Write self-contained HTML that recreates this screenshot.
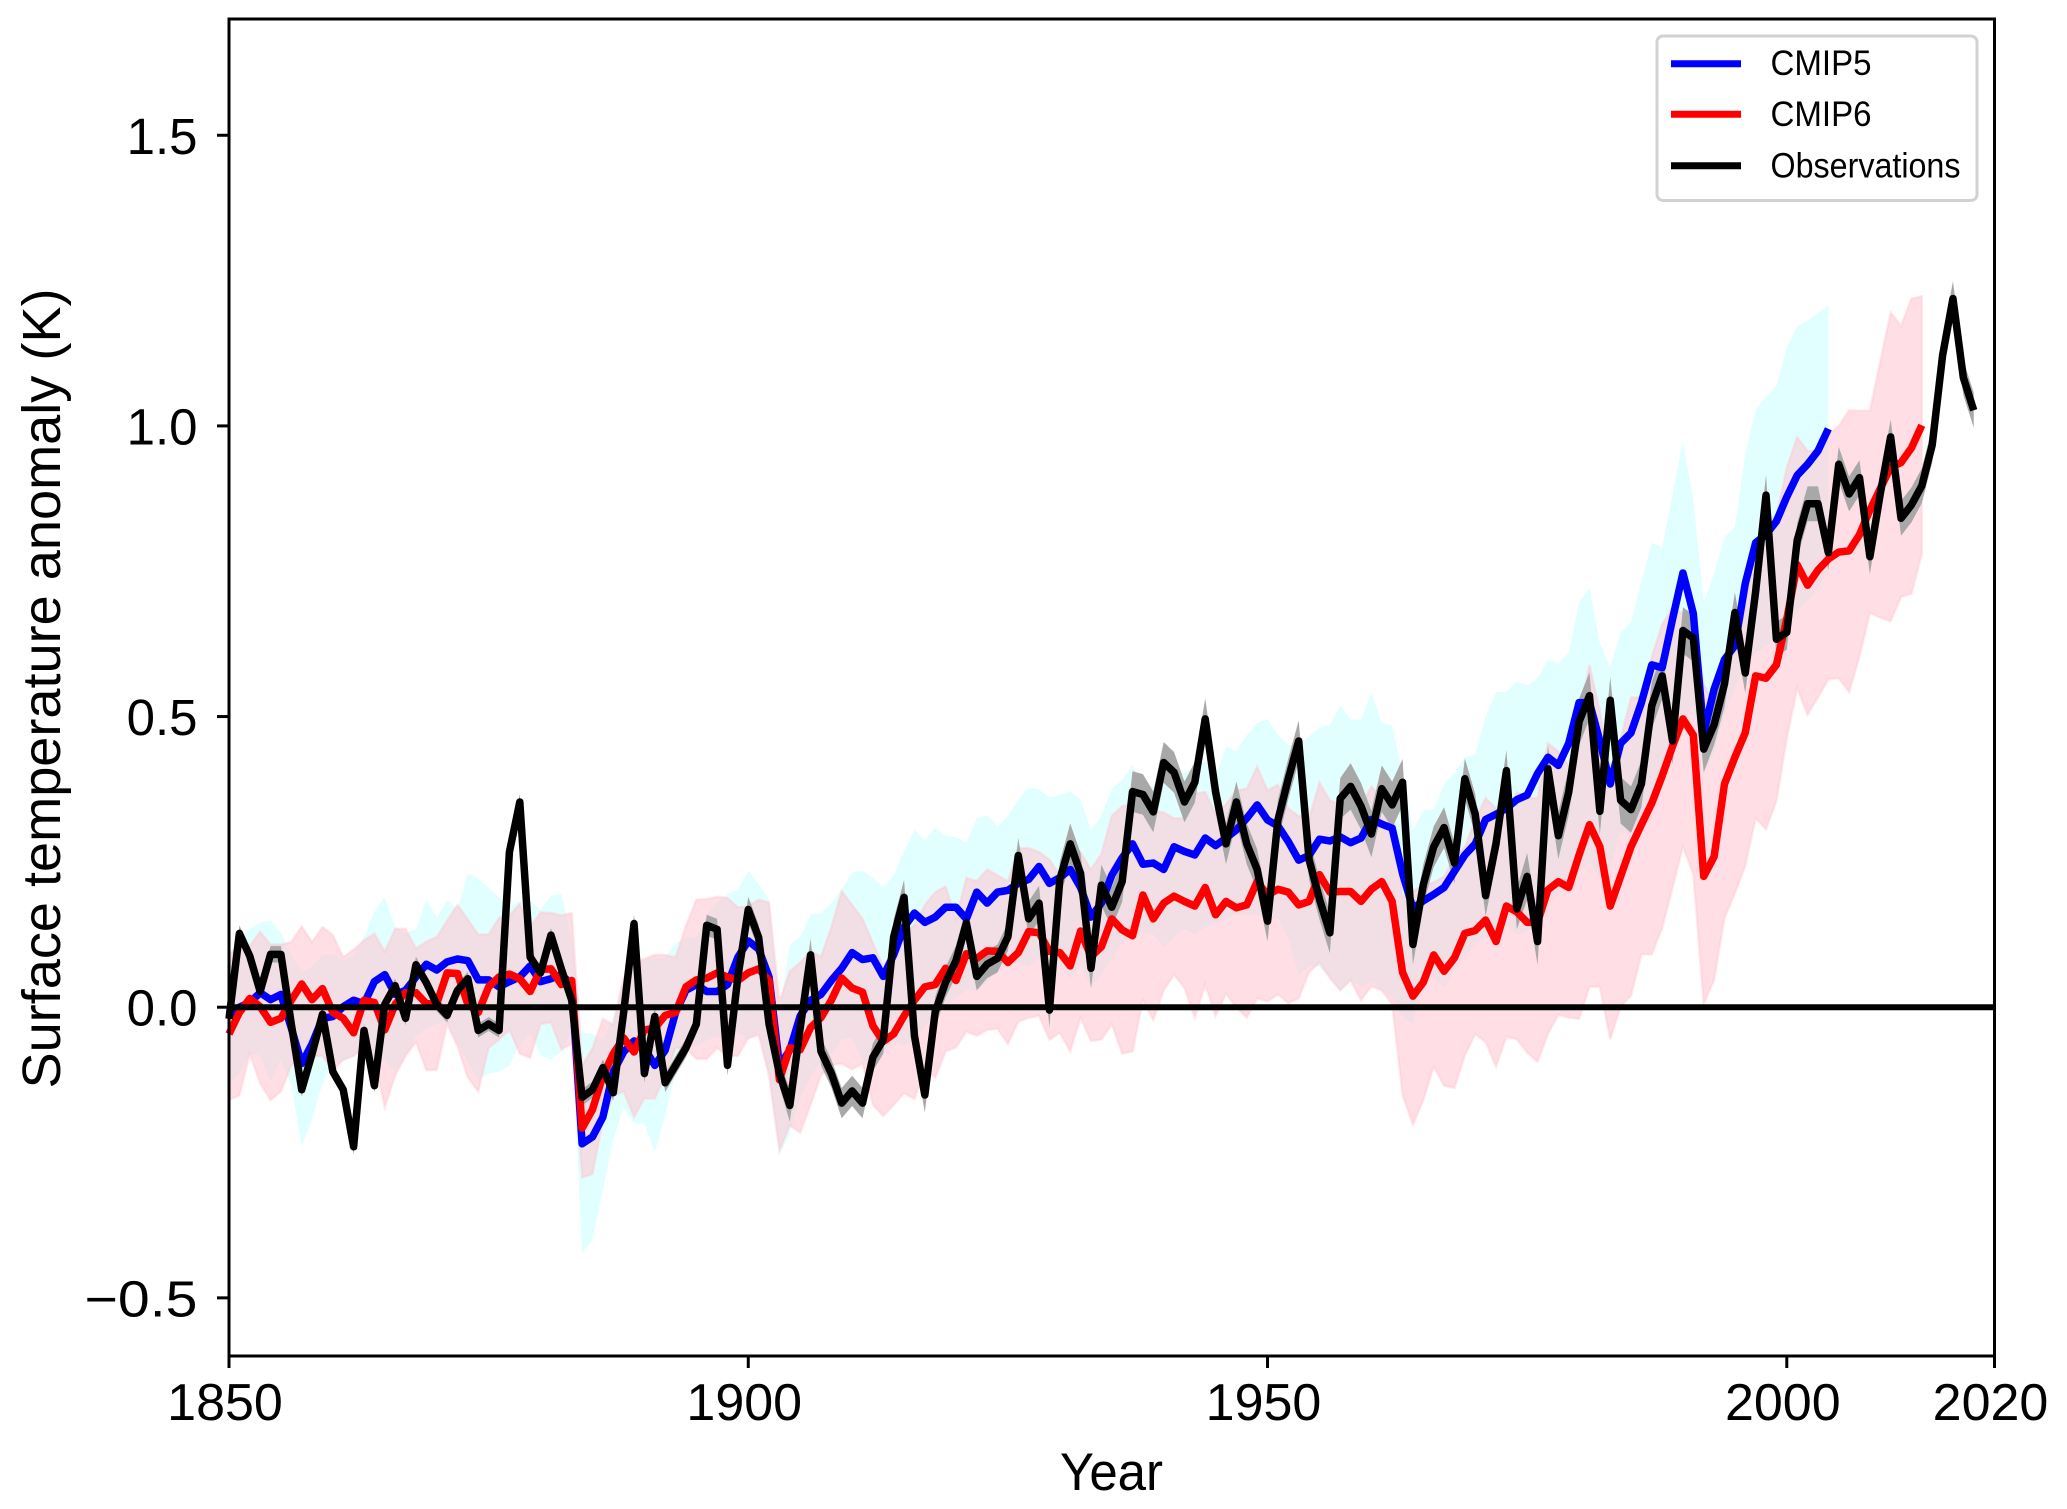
<!DOCTYPE html>
<html lang="en">
<head>
<meta charset="utf-8">
<title>Surface temperature anomaly</title>
<style>
  html, body { margin: 0; padding: 0; background: #fff; }
  body { width: 2067px; height: 1509px; overflow: hidden; }
  svg { display: block; font-family: "Liberation Sans", sans-serif; }
</style>
</head>
<body>
<svg id="chart" xmlns="http://www.w3.org/2000/svg" width="2067" height="1509" viewBox="0 0 2067 1509">
  <rect x="0" y="0" width="2067" height="1509" fill="#fff"/>
  <g id="bands"></g>
  <g id="lines"></g>
  <g id="axes"></g>
  <text transform="translate(60 688.5) rotate(-90)" text-anchor="middle" font-size="54" textLength="800" lengthAdjust="spacingAndGlyphs" fill="#000">Surface temperature anomaly (K)</text>
  <text x="1111.5" y="1490" text-anchor="middle" font-size="53" textLength="103" lengthAdjust="spacingAndGlyphs" fill="#000">Year</text>
  <g>
    <rect x="1657" y="36" width="320" height="164.5" rx="6" ry="6" fill="#fff" stroke="#d2d2d2" stroke-width="3"/>
    <line x1="1671" y1="63.7" x2="1741" y2="63.7" stroke="#0000ff" stroke-width="7"/>
    <text x="1770.5" y="75" font-size="35" textLength="101" lengthAdjust="spacingAndGlyphs" fill="#000">CMIP5</text>
    <line x1="1671" y1="114.3" x2="1741" y2="114.3" stroke="#ff0000" stroke-width="7"/>
    <text x="1770.5" y="126" font-size="35" textLength="101" lengthAdjust="spacingAndGlyphs" fill="#000">CMIP6</text>
    <line x1="1671" y1="165.7" x2="1741" y2="165.7" stroke="#000000" stroke-width="7"/>
    <text x="1770.5" y="177.5" font-size="35" textLength="190" lengthAdjust="spacingAndGlyphs" fill="#000">Observations</text>
  </g>
</svg>
<script>
// ---- data (anomalies in K; each series starts in 1850) ----
const startYear = 1850;
const xTicks = [1850, 1900, 1950, 2000, 2020];
const yTicks = [-0.5, 0, 0.5, 1, 1.5];
const yTickLabels = ["\u22120.5", "0.0", "0.5", "1.0", "1.5"];
const xDomain = [1850, 2020];
const yDomain = [-0.6, 1.7];

const observations = [
 -.02,.127,.088,.027,.091,.091,-.029,-.142,-.08,-.012,
 -.111,-.142,-.24,-.04,-.135,.005,.037,-.019,.073,.042,
 .005,-.014,.029,.049,-.04,-.029,-.04,.267,.353,.086,
 .059,.124,.066,.012,-.155,-.142,-.104,-.147,-.009,.144,
 -.114,-.016,-.13,-.10,-.07,-.029,.141,.134,-.10,.052,
 .168,.12,-.029,-.114,-.169,-.036,.09,-.076,-.114,-.165,
 -.144,-.165,-.086,-.056,.121,.189,-.049,-.151,-.008,.043,
 .08,.145,.053,.074,.084,.121,.261,.152,.179,-.005,
 .22,.281,.23,.067,.21,.172,.216,.371,.366,.336,
 .421,.404,.353,.387,.496,.37,.281,.353,.281,.237,
 .148,.322,.393,.458,.254,.186,.128,.359,.38,.346,
 .298,.376,.348,.387,.108,.211,.276,.309,.248,.393,
 .332,.192,.281,.407,.169,.225,.113,.41,.295,.37,
 .491,.536,.337,.528,.356,.34,.384,.519,.57,.458,
 .648,.635,.444,.486,.556,.679,.575,.715,.881,.633,
 .645,.803,.866,.866,.782,.934,.883,.911,.775,.883,
 .981,.841,.864,.897,.967,1.121,1.219,1.083,1.027
];
const observationsError = [
 .012,.014,.012,.012,.014,.014,.012,.012,.012,.012,
 .012,.012,.014,.012,.012,.012,.012,.012,.014,.012,
 .012,.012,.012,.012,.012,.012,.012,.012,.014,.014,
 .012,.012,.012,.012,.014,.014,.014,.014,.014,.016,
 .016,.016,.016,.016,.016,.016,.018,.018,.018,.018,
 .022,.022,.022,.022,.028,.028,.028,.024,.024,.026,
 .026,.026,.024,.024,.03,.03,.03,.03,.026,.026,
 .026,.026,.024,.024,.024,.024,.03,.03,.03,.03,
 .03,.035,.035,.035,.035,.035,.035,.035,.035,.035,
 .035,.035,.035,.035,.035,.035,.035,.035,.035,.035,
 .035,.035,.035,.035,.035,.035,.035,.035,.04,.04,
 .04,.04,.04,.04,.035,.035,.035,.035,.035,.035,
 .035,.035,.035,.035,.035,.04,.04,.04,.04,.04,
 .04,.04,.04,.04,.04,.04,.04,.04,.04,.04,
 .04,.04,.04,.035,.04,.035,.035,.035,.035,.03,
 .03,.03,.03,.03,.03,.03,.03,.03,.03,.03,
 .03,.03,.03,.03,.03,.03,.03,.03,.03
];

const cmip5 = [
 -.015,0,.008,.025,.013,.022,-.036,-.097,-.063,-.019,
 -.016,.001,.012,.006,.044,.056,.022,.029,.052,.074,
 .064,.078,.083,.08,.047,.047,.035,.044,.052,.071,
 .044,.049,.056,.039,-.235,-.223,-.189,-.111,-.077,-.058,
 -.07,-.10,-.074,-.009,.029,.039,.027,.027,.039,.086,
 .114,.10,.052,-.10,-.074,-.015,.012,.022,.046,.067,
 .094,.082,.085,.053,.09,.138,.162,.146,.155,.172,
 .172,.152,.198,.179,.198,.201,.213,.22,.242,.213,
 .223,.237,.206,.155,.179,.227,.257,.281,.246,.248,
 .237,.276,.268,.262,.291,.278,.291,.305,.325,.348,
 .322,.312,.285,.253,.261,.289,.286,.293,.283,.291,
 .323,.315,.308,.23,.17,.183,.194,.206,.234,.262,
 .281,.323,.332,.342,.357,.365,.402,.43,.416,.454,
 .524,.524,.458,.384,.454,.472,.524,.589,.584,.668,
 .747,.677,.472,.547,.598,.622,.729,.799,.813,.836,
 .878,.915,.934,.957,.995
];
const cmip5Upper = [
 .09,.12,.135,.145,.149,.128,.09,.06,.07,.09,
 .09,.08,.09,.121,.165,.189,.138,.128,.134,.185,
 .154,.185,.168,.23,.222,.205,.188,.175,.182,.182,
 .168,.192,.195,.12,-.043,-.046,-.056,-.016,.052,.076,
 .08,.085,.086,.11,.12,.12,.16,.18,.195,.202,
 .235,.212,.185,-.009,.107,.121,.159,.162,.179,.203,
 .232,.235,.223,.206,.227,.268,.305,.287,.309,.295,
 .292,.283,.325,.33,.311,.329,.357,.378,.375,.361,
 .366,.371,.357,.305,.329,.376,.391,.417,.38,.38,
 .383,.397,.404,.41,.424,.397,.448,.441,.468,.489,
 .496,.468,.451,.451,.466,.482,.485,.519,.495,.495,
 .541,.489,.485,.40,.304,.34,.34,.384,.402,.43,
 .435,.50,.542,.542,.561,.553,.566,.598,.592,.61,
 .696,.722,.626,.586,.645,.663,.733,.799,.791,.883,
 .974,.873,.696,.747,.808,.827,.953,1.027,1.051,1.069,
 1.135,1.172,1.181,1.195,1.207
];
const cmip5Lower = [
 -.131,-.114,-.08,-.083,-.128,-.09,-.135,-.239,-.193,-.131,
 -.097,-.094,-.084,-.07,-.09,-.09,-.111,-.084,-.05,-.036,
 -.029,-.026,-.063,-.094,-.125,-.114,-.111,-.101,-.063,-.046,
 -.083,-.09,-.077,-.043,-.424,-.40,-.315,-.227,-.172,-.201,
 -.20,-.25,-.186,-.111,-.07,-.067,-.057,-.05,-.057,-.043,
 -.057,-.043,-.118,-.254,-.22,-.155,-.12,-.093,-.08,-.056,
 -.052,-.093,-.10,-.076,-.059,-.066,-.056,-.032,-.015,-.001,
 .016,.029,.029,.043,.063,.07,.077,.07,.084,.084,
 .07,.05,.07,.036,.056,.084,.111,.125,.128,.125,
 .104,.121,.135,.125,.138,.145,.152,.159,.159,.159,
 .152,.152,.118,.056,.07,.07,.05,.029,.046,.036,
 .043,.029,.016,-.018,-.029,.052,.05,.034,.062,.085,
 .11,.12,.13,.14,.125,.13,.14,.17,.20,.21,
 .23,.25,.22,.24,.30,.30,.33,.37,.41,.43,
 .49,.52,.40,.44,.50,.55,.59,.61,.62,.64,
 .65,.68,.70,.72,.75
];

const cmip6 = [
 -.046,-.009,.015,.001,-.026,-.019,.012,.04,.013,.032,
 -.009,-.019,-.044,.012,.008,-.039,.005,.025,.025,.006,
 .006,.059,.058,.005,-.009,.035,.052,.057,.049,.027,
 .065,.066,.039,.046,-.208,-.176,-.118,-.08,-.053,-.077,
 -.039,-.036,-.014,-.009,.035,.047,.05,.059,.052,.046,
 .059,.066,.046,-.125,-.07,-.073,-.035,-.018,.012,.05,
 .033,.026,-.032,-.059,-.046,-.015,.012,.035,.039,.067,
 .046,.092,.084,.097,.096,.077,.094,.13,.128,.096,
 .094,.071,.131,.087,.104,.152,.133,.123,.193,.152,
 .179,.191,.182,.174,.206,.159,.182,.171,.176,.216,
 .193,.203,.198,.176,.182,.228,.198,.199,.199,.182,
 .203,.216,.182,.06,.019,.043,.09,.062,.085,.127,
 .132,.15,.113,.174,.164,.146,.146,.202,.216,.206,
 .262,.314,.276,.174,.225,.276,.314,.351,.398,.449,
 .496,.468,.225,.259,.384,.43,.472,.57,.566,.589,
 .668,.761,.726,.752,.771,.783,.785,.813,.855,.892,
 .929,.937,.962,1.001
];
const cmip6Upper = [
 .09,.105,.105,.13,.108,.108,.112,.139,.112,.138,
 .124,.086,.099,.115,.127,.096,.135,.135,.101,.113,
 .121,.149,.176,.151,.125,.125,.154,.158,.178,.138,
 .163,.162,.158,.162,-.10,-.07,-.02,-.03,.05,.077,
 .083,.09,.09,.086,.14,.185,.186,.19,.188,.172,
 .174,.185,.18,.01,.062,.077,.097,.087,.138,.20,
 .176,.152,.111,.07,.097,.125,.142,.176,.198,.208,
 .152,.223,.217,.237,.227,.217,.274,.274,.267,.254,
 .227,.281,.267,.237,.264,.329,.346,.35,.345,.339,
 .335,.325,.325,.368,.37,.332,.349,.373,.376,.414,
 .373,.383,.342,.329,.325,.387,.356,.349,.383,.346,
 .38,.359,.353,.19,.20,.21,.215,.225,.258,.276,
 .323,.36,.342,.332,.37,.36,.36,.454,.44,.416,
 .50,.589,.51,.407,.463,.533,.533,.603,.659,.687,
 .677,.668,.556,.519,.556,.631,.687,.799,.836,.845,
 .929,.981,.957,.957,.985,1.0,1.027,1.026,1.026,1.111,
 1.195,1.172,1.219,1.223
];
const cmip6Lower = [
 -.159,-.152,-.08,-.131,-.16,-.145,-.10,-.09,-.085,-.084,
 -.11,-.09,-.084,-.07,-.09,-.172,-.118,-.084,-.06,-.108,
 -.108,-.029,-.067,-.121,-.145,-.07,-.056,-.039,-.08,-.087,
 -.029,-.026,-.073,-.063,-.293,-.287,-.196,-.152,-.145,-.189,
 -.157,-.157,-.118,-.07,-.07,-.089,-.089,-.07,-.084,-.084,
 -.053,-.048,-.118,-.247,-.203,-.216,-.168,-.117,-.10,-.097,
 -.107,-.097,-.168,-.187,-.168,-.148,-.158,-.107,-.121,-.076,
 -.069,-.042,-.049,-.039,-.037,-.063,-.025,-.018,-.015,-.056,
 -.044,-.076,-.018,-.058,-.056,-.029,-.08,-.076,.012,-.022,
 .029,.056,.033,-.018,.039,-.015,.023,-.001,-.018,.015,
 .01,.022,.007,.015,.06,.077,.05,.029,.046,.012,
 .036,.029,.005,-.151,-.202,-.16,-.102,-.135,-.139,-.083,
 -.046,-.06,-.102,-.051,-.055,-.078,-.094,-.046,-.013,-.018,
 -.02,.035,.035,-.055,.001,.02,.091,.091,.136,.206,
 .276,.229,.006,.047,.154,.196,.243,.325,.306,.355,
 .463,.549,.503,.533,.564,.566,.542,.603,.678,.67,
 .664,.706,.711,.78
];

// ---- plot geometry and axis functions ----
const plotLeft = 229, plotRight = 1994.5, plotTop = 19, plotBottom = 1356;
function xScale(year) { return plotLeft + (year - xDomain[0]) / (xDomain[1] - xDomain[0]) * (plotRight - plotLeft); }
function yScale(value) { return plotBottom - (value - yDomain[0]) / (yDomain[1] - yDomain[0]) * (plotBottom - plotTop); }

const SVGNS = "http://www.w3.org/2000/svg";
function makeEl(tag, parent, attrs) {
  const el = document.createElementNS(SVGNS, tag);
  for (const k in attrs) el.setAttribute(k, attrs[k]);
  parent.appendChild(el);
  return el;
}
function linePath(values) {
  return values.map((v, i) => (i ? "L" : "M") + xScale(startYear + i).toFixed(2) + " " + yScale(v).toFixed(2)).join("");
}
function bandPath(upper, lower) {
  let d = linePath(upper);
  for (let i = lower.length - 1; i >= 0; i--) {
    d += "L" + xScale(startYear + i).toFixed(2) + " " + yScale(lower[i]).toFixed(2);
  }
  return d + "Z";
}

const bandsG = document.getElementById("bands");
const linesG = document.getElementById("lines");
const axesG = document.getElementById("axes");

const bandCmip5 = makeEl("path", bandsG, { d: bandPath(cmip5Upper, cmip5Lower), fill: "#e2ffff", stroke: "none" });



const bandCmip6 = makeEl("path", bandsG, { d: bandPath(cmip6Upper, cmip6Lower), fill: "#ffc0cb", "fill-opacity": 0.5, stroke: "#ffc0cb", "stroke-opacity": 0.35, "stroke-width": 2.5 });



const obsUpper = observations.map((v, i) => v + observationsError[i]);
const obsLower = observations.map((v, i) => v - observationsError[i]);
const bandObs = makeEl("path", bandsG, { d: bandPath(obsUpper, obsLower), fill: "#a8a8a8", stroke: "none" });



const lineStyle = { fill: "none", "stroke-width": 7.5, "stroke-linejoin": "round", "stroke-linecap": "butt" };
const lineCmip5 = makeEl("path", linesG, Object.assign({ d: linePath(cmip5), stroke: "#0000ff" }, lineStyle));



const lineCmip6 = makeEl("path", linesG, Object.assign({ d: linePath(cmip6), stroke: "#ff0000" }, lineStyle));



const lineObs = makeEl("path", linesG, Object.assign({ d: linePath(observations), stroke: "#000000" }, lineStyle));



const zeroLine = makeEl("line", linesG, { x1: plotLeft, x2: plotRight, y1: yScale(0), y2: yScale(0), stroke: "#000", "stroke-width": 6 });



const frame = makeEl("rect", axesG, { x: plotLeft, y: plotTop, width: plotRight - plotLeft, height: plotBottom - plotTop, fill: "none", stroke: "#000", "stroke-width": 3 });



xTicks.forEach(function (t) {
  const tick = makeEl("line", axesG, { x1: xScale(t), x2: xScale(t), y1: plotBottom, y2: plotBottom + 12, stroke: "#000", "stroke-width": 3 });
  
  
  const label = makeEl("text", axesG, { x: xScale(t) - 4, y: 1420, "text-anchor": "middle", "font-size": 52, fill: "#000" });
  
  
  label.textContent = String(t);
});

yTicks.forEach(function (t, i) {
  const tick = makeEl("line", axesG, { x1: plotLeft - 12, x2: plotLeft, y1: yScale(t), y2: yScale(t), stroke: "#000", "stroke-width": 3 });
  
  
  const label = makeEl("text", axesG, { x: 197.5, y: yScale(t) + 18.5, "text-anchor": "end", "font-size": 51, fill: "#000" });
  
  
  if (t < 0) {
    label.setAttribute('textLength', '113');
    label.setAttribute('lengthAdjust', 'spacingAndGlyphs');
  }
  label.textContent = yTickLabels[i];
});
</script>
</body>
</html>
